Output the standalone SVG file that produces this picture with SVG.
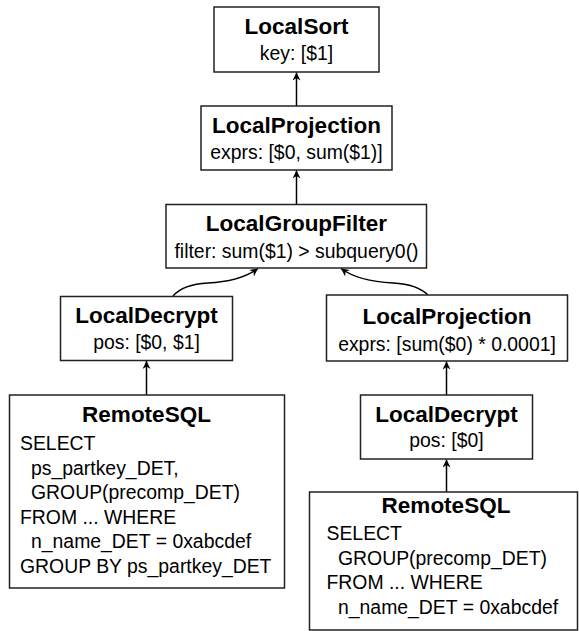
<svg xmlns="http://www.w3.org/2000/svg" width="579" height="631" viewBox="0 0 579 631">
<style>
.box{fill:#fff;stroke:#222;stroke-width:1.5}
.t{font-family:"Liberation Sans",Arial,sans-serif;font-weight:bold;font-size:22.5px;fill:#000;text-anchor:middle}
.s{font-family:"Liberation Sans",Arial,sans-serif;font-size:19.4px;fill:#000;text-anchor:middle}
.c{font-family:"Liberation Sans",Arial,sans-serif;font-size:19.4px;fill:#000;white-space:pre}
.e{fill:none;stroke:#000;stroke-width:1.5;marker-end:url(#ah)}
</style>
<defs>
<marker id="ah" viewBox="0 0 10 10" refX="10" refY="5" markerWidth="9" markerHeight="8" markerUnits="userSpaceOnUse" orient="auto">
<path d="M0,0 L10,5 L0,10 L3,5 z" fill="#000"/>
</marker>
</defs>
<rect width="579" height="631" fill="#fff"/>
<g id="connectors">
<line class="e" x1="296.5" y1="106" x2="296.5" y2="72.5"/>
<line class="e" x1="296.5" y1="204.5" x2="296.5" y2="170.5"/>
<path class="e" d="M173,296 C180,288 190,284 208,283 C228,282 245,278 258,268.5"/>
<path class="e" d="M428,295 C421,288 411,284 393,283 C373,282 354,278 341,268.5"/>
<line class="e" x1="146.5" y1="395" x2="146.5" y2="361"/>
<line class="e" x1="446.5" y1="395" x2="446.5" y2="361.5"/>
<line class="e" x1="446.5" y1="492" x2="446.5" y2="459.5"/>
</g>
<g id="localsort">
<rect class="box" x="214" y="7" width="165" height="65"/>
<text class="t" x="296.5" y="34">LocalSort</text>
<text class="s" x="296.5" y="60">key: [$1]</text>
</g>
<g id="localprojection1">
<rect class="box" x="201" y="106" width="191" height="64"/>
<text class="t" x="296.5" y="133">LocalProjection</text>
<text class="s" x="296.5" y="159">exprs: [$0, sum($1)]</text>
</g>
<g id="localgroupfilter">
<rect class="box" x="166" y="204.5" width="260.5" height="63.5"/>
<text class="t" x="296.5" y="230.5">LocalGroupFilter</text>
<text class="s" x="296.5" y="258">filter: sum($1) &gt; subquery0()</text>
</g>
<g id="localdecrypt1">
<rect class="box" x="60.5" y="296.5" width="172" height="64"/>
<text class="t" x="146.5" y="323">LocalDecrypt</text>
<text class="s" x="146.5" y="348.5">pos: [$0, $1]</text>
</g>
<g id="localprojection2">
<rect class="box" x="326.5" y="295" width="241" height="66"/>
<text class="t" x="447" y="323.5">LocalProjection</text>
<text class="s" x="447" y="351">exprs: [sum($0) * 0.0001]</text>
</g>
<g id="localdecrypt2">
<rect class="box" x="360.5" y="395" width="172" height="64"/>
<text class="t" x="446.5" y="422">LocalDecrypt</text>
<text class="s" x="446.5" y="447">pos: [$0]</text>
</g>
<g id="remotesql1">
<rect class="box" x="9.5" y="395" width="275" height="193"/>
<text class="t" x="146.5" y="421.5">RemoteSQL</text>
<text class="c" x="20" y="450">SELECT</text>
<text class="c" x="31" y="474.5">ps_partkey_DET,</text>
<text class="c" x="31" y="499">GROUP(precomp_DET)</text>
<text class="c" x="20" y="523.5">FROM ... WHERE</text>
<text class="c" x="31" y="548">n_name_DET = 0xabcdef</text>
<text class="c" x="20" y="572.5">GROUP BY ps_partkey_DET</text>
</g>
<g id="remotesql2">
<rect class="box" x="309.5" y="492" width="268" height="138"/>
<text class="t" x="446" y="512.5">RemoteSQL</text>
<text class="c" x="326.5" y="540">SELECT</text>
<text class="c" x="338" y="564.5">GROUP(precomp_DET)</text>
<text class="c" x="326.5" y="589">FROM ... WHERE</text>
<text class="c" x="338" y="613.5">n_name_DET = 0xabcdef</text>
</g>
</svg>
